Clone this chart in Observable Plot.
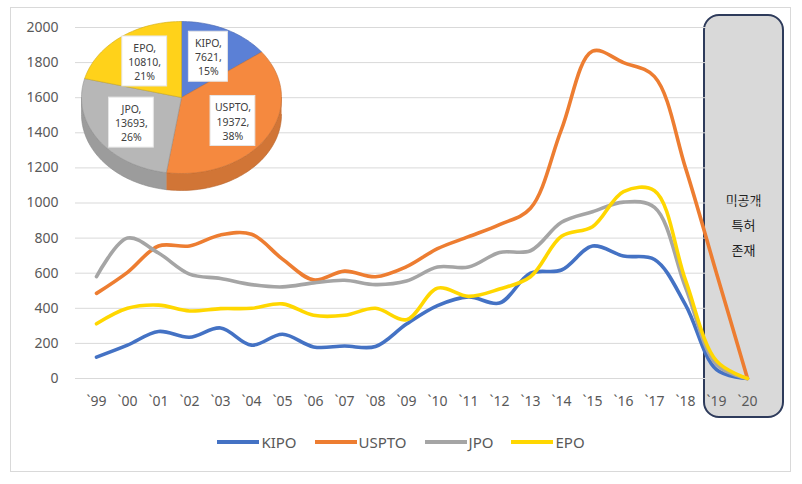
<!DOCTYPE html>
<html><head><meta charset="utf-8">
<script src="https://cdn.jsdelivr.net/npm/d3@7"></script>
<script src="https://cdn.jsdelivr.net/npm/@observablehq/plot@0.6"></script>
<style>
html,body{margin:0;padding:0;background:#fff;}
#wrap{position:relative;width:802px;height:484px;overflow:hidden;font-family:"Noto Sans",sans-serif;}
#border{position:absolute;left:10px;top:7px;width:781px;height:465px;border:1px solid #d9d9d9;box-sizing:border-box;}
#box{position:absolute;background:#d9d9d9;border:2.5px solid #2e3b5b;border-radius:16px;box-sizing:border-box;}
#boxtext{position:absolute;left:0;right:0;text-align:center;color:#222;font-size:13px;line-height:25px;font-family:"Noto Sans CJK KR",sans-serif;}
#main,#pie{position:absolute;left:0;top:0;}
#legend{position:absolute;top:432px;left:0;width:802px;display:flex;justify-content:center;gap:18px;font-size:15px;color:#595959;}
#legend .item{display:flex;align-items:center;}
#legend .sw{display:inline-block;width:42px;height:4px;margin-right:2px;}
</style></head><body>
<div id="wrap">
  <div id="border"></div>
  <div id="box"><div id="boxtext"></div></div>
  <div id="main"></div>
  <div id="pie"></div>
  <div id="legend"></div>
</div>
<script>
// ---- data ----
const years = ["`99","`00","`01","`02","`03","`04","`05","`06","`07","`08","`09","`10","`11","`12","`13","`14","`15","`16","`17","`18","`19","`20"];
const KIPO  = [122, 190, 268, 235, 288, 190, 252, 180, 185, 182, 310, 415, 465, 430, 600, 618, 755, 698, 678, 420, 50, 0];
const USPTO = [485, 605, 755, 755, 818, 822, 680, 562, 612, 580, 637, 740, 808, 877, 970, 1420, 1865, 1800, 1720, 1200, 600, 0];
const JPO   = [580, 800, 715, 595, 570, 535, 522, 545, 560, 535, 555, 635, 635, 718, 728, 890, 950, 1005, 975, 520, 80, 0];
const EPO   = [312, 400, 418, 385, 398, 400, 425, 360, 360, 400, 335, 515, 468, 510, 580, 810, 865, 1065, 1070, 560, 100, 0];
const seriesNames = ["KIPO","USPTO","JPO","EPO"];
const seriesColors = ["#4472C4","#ED7D31","#A5A5A5","#FFD700"];
const yTicks = [0,200,400,600,800,1000,1200,1400,1600,1800,2000];
const pieNames = ["KIPO","USPTO","JPO","EPO"];
const pieValues = [7621, 19372, 13693, 10810];
const piePercents = ["15%","38%","26%","21%"];
const pieColors = ["#5B80D6","#F5893F","#B7B7B7","#FFD21A"];
const noteLines = ["미공개","특허","존재"];

// ---- main line chart ----
const seriesValues = [KIPO, USPTO, JPO, EPO];
const rows = seriesNames.flatMap((n, k) => seriesValues[k].map((v, i) => ({year: years[i], value: v, name: n})));

const chart = Plot.plot({
  width: 802, height: 410,
  marginLeft: 75, marginRight: 35, marginTop: 27, marginBottom: 32,
  style: {background: "transparent", fontFamily: '"Noto Sans",sans-serif', fontSize: "14px", color: "#595959", overflow: "visible"},
  x: {type: "point", domain: years, padding: 0.5, label: null, tickSize: 0, tickPadding: 18},
  y: {domain: [0, 2000], ticks: yTicks, tickFormat: d3.format("d"), label: null, tickSize: 0, tickPadding: 17},
  color: {domain: seriesNames, range: seriesColors},
  marks: [
    Plot.gridY(yTicks, {stroke: "#d9d9d9", strokeOpacity: 1, strokeWidth: 1}),
    Plot.axisX({tickSize: 0, tickPadding: 18, fontSize: 14, label: null}),
    Plot.line(rows, {x: "year", y: "value", z: "name", stroke: "name", strokeWidth: 3.6, curve: "catmull-rom"})
  ]
});
document.getElementById("main").appendChild(chart);

// annotation box positioned from scales
const xs = chart.scale("x"), ys = chart.scale("y");
const step = xs.apply(years[1]) - xs.apply(years[0]);
const bx0 = xs.apply(years[20]) - step * 0.42;
const bx1 = xs.apply(years[21]) + step * 1.2;
const box = document.getElementById("box");
box.style.left = bx0 + "px";
box.style.width = (bx1 - bx0) + "px";
box.style.top = (ys.apply(2000) - 13) + "px";
box.style.height = (ys.apply(0) + 40 - (ys.apply(2000) - 13)) + "px";
const bt = document.getElementById("boxtext");
bt.innerHTML = noteLines.join("<br>");
bt.style.top = (ys.apply(1100) - (ys.apply(2000) - 13)) + "px";

// legend
const lg = document.getElementById("legend");
seriesNames.forEach((n, i) => {
  const it = document.createElement("div");
  it.className = "item";
  it.innerHTML = `<span class="sw" style="background:${seriesColors[i]}"></span><span>${n}</span>`;
  lg.appendChild(it);
});

// ---- 3D pie overlay ----
const RX = 100, RY = 76, DEPTH = 17;
const arcs = d3.pie().sort(null)(pieValues);
const pt = (a, dy) => ({px: RX * Math.sin(a), py: -RY * Math.cos(a) + dy});
const arcPts = (a0, a1, dy) => {
  const n = Math.max(2, Math.ceil((a1 - a0) / 0.03));
  return d3.range(n + 1).map(i => pt(a0 + (a1 - a0) * i / n, dy));
};
const pieMarks = [];
arcs.forEach((a, i) => {
  const s0 = Math.max(a.startAngle, Math.PI / 2), s1 = Math.min(a.endAngle, 3 * Math.PI / 2);
  if (s1 > s0) {
    const side = arcPts(s0, s1, 0).concat(arcPts(s0, s1, DEPTH).reverse());
    const dc = d3.color(pieColors[i]).darker(0.45).formatHex();
    pieMarks.push(Plot.line(side, {x: "px", y: "py", fill: dc, stroke: d3.color(pieColors[i]).darker(0.8).formatHex(), strokeWidth: 0.6}));
  }
});
arcs.forEach((a, i) => {
  const top = [{px: 0, py: 0}].concat(arcPts(a.startAngle, a.endAngle, 0)).concat([{px: 0, py: 0}]);
  pieMarks.push(Plot.line(top, {x: "px", y: "py", fill: pieColors[i], stroke: d3.color(pieColors[i]).darker(0.6).formatHex(), strokeWidth: 0.6}));
});
const labels = arcs.map((a, i) => {
  const m = (a.startAngle + a.endAngle) / 2;
  const t = [pieNames[i] + ",", String(pieValues[i]) + ",", piePercents[i]];
  const w = Math.max(...t.map(s => s.length)) * 5.8 + 10;
  return {lx: 0.6 * RX * Math.sin(m), ly: -0.6 * RY * Math.cos(m), w, h: 50, text: t.join("\n")};
});
pieMarks.push(Plot.rect(labels, {x1: d => d.lx - d.w / 2, x2: d => d.lx + d.w / 2, y1: d => d.ly - d.h / 2, y2: d => d.ly + d.h / 2, fill: "white", stroke: "#e6e6e6"}));
pieMarks.push(Plot.text(labels, {x: "lx", y: "ly", text: "text", fontSize: 10.5, lineHeight: 1.35, fill: "#404040"}));

const pie = Plot.plot({
  width: 230, height: 200, margin: 0,
  style: {background: "transparent", fontFamily: '"Noto Sans",sans-serif', overflow: "visible"},
  x: {type: "linear", domain: [-115, 115], range: [0, 230], axis: null},
  y: {type: "linear", domain: [-100, 100], range: [0, 200], axis: null},
  marks: pieMarks
});
const pieDiv = document.getElementById("pie");
pieDiv.style.left = (181 - 115) + "px";
pieDiv.style.top = "-3px";
pieDiv.appendChild(pie);
</script>
</body></html>
